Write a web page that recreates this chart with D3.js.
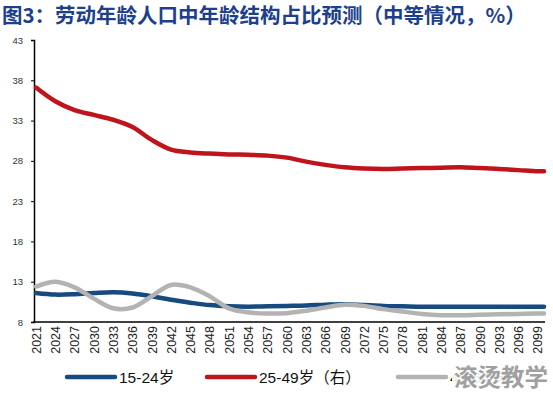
<!DOCTYPE html>
<html>
<head>
<meta charset="utf-8">
<script src="https://cdn.jsdelivr.net/npm/d3@7"></script>
<style>
  body { margin: 0; background: #fff; }
  svg { display: block; font-family: "Liberation Sans", Arial, sans-serif; }
</style>
</head>
<body>
<svg id="chart" width="553" height="394"></svg>
<script>
// years (labels every 3 years, last point 2100)
const years = [2021, 2024, 2027, 2030, 2033, 2036, 2039, 2042, 2045, 2048, 2051, 2054, 2057, 2060,
  2063, 2066, 2069, 2072, 2075, 2078, 2081, 2084, 2087, 2090, 2093, 2096, 2099, 2100]
const tickYears = years.filter(y => y !== 2100)
const yTicks = [8, 13, 18, 23, 28, 33, 38, 43]

const age15to24 = [11.6, 11.4, 11.45, 11.6, 11.7, 11.55, 11.2, 10.75, 10.4, 10.1, 9.95, 9.9, 9.95, 10.0,
  10.05, 10.15, 10.2, 10.1, 10.0, 9.95, 9.9, 9.9, 9.9, 9.9, 9.9, 9.9, 9.9, 9.9]
const age25to49 = [37.1, 35.4, 34.3, 33.7, 33.1, 32.2, 30.6, 29.4, 29.05, 28.9, 28.8, 28.75, 28.65, 28.4,
  27.9, 27.5, 27.2, 27.05, 27.0, 27.05, 27.1, 27.15, 27.2, 27.1, 27.0, 26.85, 26.7, 26.7]
const age45plus = [12.4, 13.0, 12.3, 10.9, 9.7, 9.8, 11.2, 12.6, 12.3, 11.2, 9.7, 9.2, 9.05, 9.1,
  9.4, 9.8, 10.15, 10.0, 9.6, 9.3, 9.0, 8.85, 8.85, 8.9, 8.95, 9.0, 9.05, 9.05]

const seriesNames = ['15-24岁', '25-49岁（右）', '45-64岁']
const seriesColors = ['#174a80', '#c0141c', '#b3b3b3']

const svg = d3.select('#chart')

// title
svg.append('text')
  .attr('x', 2)
  .attr('y', 23)
  .attr('font-family', '"Noto Sans CJK SC", sans-serif')
  .attr('font-weight', 'bold')
  .attr('font-size', 20.5)
  .attr('fill', '#1d3f8c')
  .text('图3：劳动年龄人口中年龄结构占比预测（中等情况，%）')

const x = d3.scaleLinear().domain([2021, 2100]).range([36, 544])
const y = d3.scaleLinear().domain([8, 43]).range([322, 40])

// y axis
const yAxis = svg.append('g')
  .attr('transform', 'translate(34,0)')
  .call(d3.axisLeft(y).tickValues(yTicks).tickSize(3).tickPadding(8))
yAxis.select('.domain').attr('stroke', '#000').attr('stroke-width', 1.5)
yAxis.selectAll('line').attr('stroke', '#000')
yAxis.selectAll('text')
  .attr('font-size', 9.5)
  .attr('fill', '#333')

// x axis with rotated year labels
const xAxis = svg.append('g')
  .attr('transform', 'translate(0,322)')
  .call(d3.axisBottom(x).tickValues(tickYears).tickFormat(d3.format('d')).tickSize(0).tickSizeOuter(0))
xAxis.select('.domain').attr('d', 'M33,0H545').attr('stroke', '#000').attr('stroke-width', 1.5)
xAxis.selectAll('text')
  .attr('transform', 'rotate(-90)')
  .attr('text-anchor', 'end')
  .attr('x', -4)
  .attr('y', 0)
  .attr('dy', '0.35em')
  .attr('font-size', 12.5)
  .attr('fill', '#222')

const line = d3.line()
  .x((d, i) => x(years[i]))
  .y(d => y(d))
  .curve(d3.curveCatmullRom.alpha(0.5))

const seriesData = [age15to24, age25to49, age45plus]
// draw order: blue, grey on top at crossings, red
const drawOrder = [0, 2, 1]
drawOrder.forEach(i => {
  svg.append('path')
    .attr('d', line(seriesData[i]))
    .attr('fill', 'none')
    .attr('stroke', seriesColors[i])
    .attr('stroke-width', 4.5)
    .attr('stroke-linecap', 'round')
    .attr('stroke-linejoin', 'round')
})

// legend
const legendX = [67, 207, 398]
const legend = svg.append('g')
seriesNames.forEach((name, i) => {
  legend.append('line')
    .attr('x1', legendX[i]).attr('x2', legendX[i] + 48)
    .attr('y1', 377).attr('y2', 377)
    .attr('stroke', seriesColors[i])
    .attr('stroke-width', 4.5)
    .attr('stroke-linecap', 'round')
  legend.append('text')
    .attr('x', legendX[i] + 52)
    .attr('y', 382.5)
    .attr('font-size', 15.5)
    .attr('font-family', '"Liberation Sans", "Noto Sans CJK SC", sans-serif')
    .attr('fill', '#111')
    .text(name)
})

// watermark over the last legend entry
svg.append('rect')
  .attr('x', 452).attr('y', 362).attr('width', 101).attr('height', 30)
  .attr('fill', '#fff').attr('opacity', 0.9)
svg.append('text')
  .attr('x', 548)
  .attr('y', 386)
  .attr('text-anchor', 'end')
  .attr('font-family', '"Noto Sans CJK SC", sans-serif')
  .attr('font-weight', 'bold')
  .attr('font-size', 23.5)
  .attr('fill', '#a0a0a0')
  .text('滚烫教学')
</script>
</body>
</html>
